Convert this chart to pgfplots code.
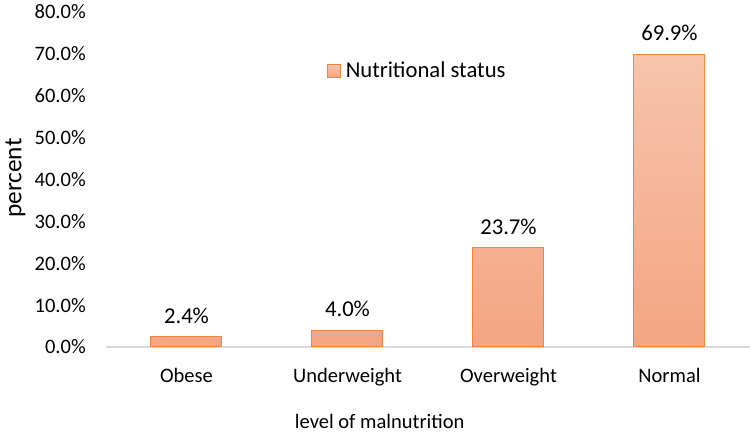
\documentclass[border=0pt]{standalone}
\usepackage{fontspec}
\setmainfont{Carlito}
\usepackage{pgfplots}
\pgfplotsset{compat=1.18}
\definecolor{bartop}{HTML}{F7C4AC}
\definecolor{barbot}{HTML}{F4A582}
\definecolor{baredge}{HTML}{F0843F}
\definecolor{axgray}{HTML}{D9D9D9}
\begin{document}
\begin{tikzpicture}
\useasboundingbox (-79.5pt,-65.25pt) rectangle (483pt,260.25pt);
\begin{axis}[
  at={(0,0)}, anchor=south west,
  scale only axis,
  width=483pt, height=251.25pt,
  xmin=-0.5, xmax=3.5,
  ymin=0, ymax=80,
  ybar, bar width=53.25pt,
  xtick=data,
  xticklabels={Obese,Underweight,Overweight,Normal},
  ytick={0,10,...,80},
  major tick length=0pt,
  axis x line*=bottom,
  axis y line*=left,
  x axis line style={draw=axgray, line width=1pt},
  y axis line style={draw=none},
  clip=false,
  yticklabel={\pgfmathprintnumber[fixed,fixed zerofill,precision=1,assume math mode=true]{\tick}\%},
  yticklabel style={anchor=east, inner sep=0pt, xshift=-15pt, font=\fontsize{15.4}{18}\selectfont},
  xticklabel style={anchor=base, inner sep=0pt, yshift=-27pt, font=\fontsize{15.4}{18}\selectfont},
  xlabel={level of malnutrition},
  xlabel style={at={(axis description cs:0.425,0)}, anchor=base, inner sep=0pt, yshift=-61.5pt, font=\fontsize{15.4}{18}\selectfont},
  ylabel={percent},
  ylabel style={at={(axis description cs:0,0.504)}, anchor=center, inner sep=0pt, yshift=68pt, font=\fontsize{19}{22}\selectfont},
  nodes near coords={\pgfmathprintnumber[fixed,fixed zerofill,precision=1,assume math mode=true]{\pgfplotspointmeta}\%},
  nodes near coords style={anchor=base, inner sep=0pt, yshift=10pt, font=\fontsize{17}{20}\selectfont, text=black},
  legend style={at={(axis description cs:0.3432,0.824)}, anchor=west, draw=none, fill=none, inner sep=0pt,
    font=\fontsize{17}{20}\selectfont,
    /tikz/every even column/.append style={column sep=0pt}},
  legend cell align=left,
  legend image code/.code={\draw[draw=baredge, line width=0.6pt, top color=bartop, bottom color=barbot] (0pt,-4.875pt) rectangle (9.75pt,4.875pt);},
]
\addplot[draw=baredge, line width=0.75pt, top color=bartop, bottom color=barbot]
  coordinates {(0,2.4) (1,4.0) (2,23.7) (3,69.9)};
\addlegendentry{\hspace{1.5pt}Nutritional status}
\end{axis}
\end{tikzpicture}
\end{document}
